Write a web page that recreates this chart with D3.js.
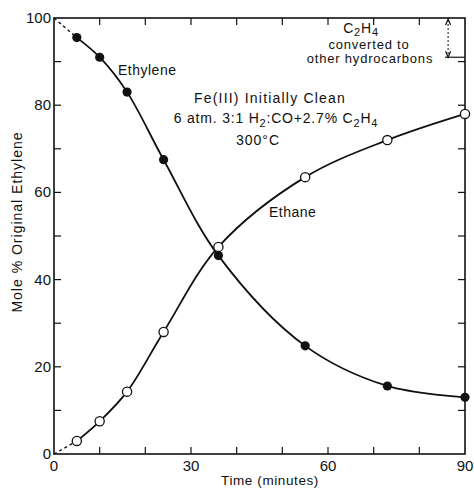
<!DOCTYPE html>
<html>
<head>
<meta charset="utf-8">
<script src="https://cdn.jsdelivr.net/npm/d3@7"></script>
<style>
  body { margin: 0; background: #fff; }
  text { font-family: "Liberation Sans", Arial, sans-serif; fill: #111; }
</style>
</head>
<body>
<div id="chart"></div>
<script>
// data
const times = [5, 10, 16, 24, 36, 55, 73, 90];
const ethylene = [95.5, 91, 83, 67.5, 45.5, 24.8, 15.6, 13];
const ethane = [3, 7.5, 14.3, 28, 47.5, 63.5, 72, 78];
const ethyleneStart = [0, 100];
const ethaneStart = [0, 0];
const xTickLabels = [0, 30, 60, 90];
const yTickLabels = [0, 20, 40, 60, 80, 100];
const minorTicks = [10, 20, 30, 40, 50, 60, 70, 80, 90];

const width = 474, height = 490;
const margin = {top: 18, right: 9, bottom: 36, left: 54};

const svg = d3.select("#chart").append("svg")
    .attr("width", width)
    .attr("height", height);

const x = d3.scaleLinear().domain([0, 90]).range([margin.left, width - margin.right]);
const y = d3.scaleLinear().domain([0, 100]).range([height - margin.bottom, margin.top]);

const ink = "#111";

// frame
svg.append("rect")
    .attr("x", x(0)).attr("y", y(100))
    .attr("width", x(90) - x(0)).attr("height", y(0) - y(100))
    .attr("fill", "none").attr("stroke", ink).attr("stroke-width", 1.6);

// inward ticks on all four sides
const tl = 7;
minorTicks.forEach(v => {
    if (v < 90) {
        svg.append("line").attr("x1", x(v)).attr("x2", x(v)).attr("y1", y(0)).attr("y2", y(0) - tl)
            .attr("stroke", ink).attr("stroke-width", 1.2);
        svg.append("line").attr("x1", x(v)).attr("x2", x(v)).attr("y1", y(100)).attr("y2", y(100) + tl)
            .attr("stroke", ink).attr("stroke-width", 1.2);
    }
    svg.append("line").attr("x1", x(0)).attr("x2", x(0) + tl).attr("y1", y(v)).attr("y2", y(v))
        .attr("stroke", ink).attr("stroke-width", 1.2);
    svg.append("line").attr("x1", x(90)).attr("x2", x(90) - tl).attr("y1", y(v)).attr("y2", y(v))
        .attr("stroke", ink).attr("stroke-width", 1.2);
});

// tick labels
svg.selectAll(".xlab").data(xTickLabels).enter().append("text")
    .attr("x", d => x(d)).attr("y", y(0) + 17)
    .attr("text-anchor", "middle").attr("font-size", 15)
    .text(d => d);

svg.selectAll(".ylab").data(yTickLabels).enter().append("text")
    .attr("x", x(0) - 3).attr("y", d => y(d) + 5)
    .attr("text-anchor", "end").attr("font-size", 15)
    .text(d => d);

// axis titles
svg.append("text")
    .attr("x", 270).attr("y", height - 5)
    .attr("text-anchor", "middle").attr("font-size", 13.5)
    .attr("letter-spacing", 0.6)
    .text("Time (minutes)");

svg.append("text")
    .attr("transform", "rotate(-90)")
    .attr("x", -222).attr("y", 22)
    .attr("text-anchor", "middle").attr("font-size", 14)
    .attr("letter-spacing", 1)
    .text("Mole % Original Ethylene");

// curves
const line = d3.line()
    .x(d => x(d[0])).y(d => y(d[1]))
    .curve(d3.curveCatmullRom.alpha(0.5));

const ethyleneData = times.map((t, i) => [t, ethylene[i]]);
const ethaneData = times.map((t, i) => [t, ethane[i]]);

[[ethyleneStart, ethyleneData], [ethaneStart, ethaneData]].forEach(([start, pts]) => {
    svg.append("path")
        .attr("d", d3.line().x(d => x(d[0])).y(d => y(d[1]))([start, pts[0]]))
        .attr("fill", "none").attr("stroke", ink).attr("stroke-width", 1.4)
        .attr("stroke-dasharray", "3,3");
    svg.append("path")
        .attr("d", line(pts))
        .attr("fill", "none").attr("stroke", ink).attr("stroke-width", 1.8);
});

svg.selectAll(".eth").data(ethyleneData).enter().append("circle")
    .attr("cx", d => x(d[0])).attr("cy", d => y(d[1]))
    .attr("r", 4.6).attr("fill", ink);

svg.selectAll(".ethane").data(ethaneData).enter().append("circle")
    .attr("cx", d => x(d[0])).attr("cy", d => y(d[1]))
    .attr("r", 4.6).attr("fill", "#fff").attr("stroke", ink).attr("stroke-width", 1.3);

// labels
svg.append("text").attr("x", 118).attr("y", 75).attr("font-size", 14)
    .attr("letter-spacing", 0.5).text("Ethylene");
svg.append("text").attr("x", 269).attr("y", 217).attr("font-size", 14)
    .attr("letter-spacing", 0.5).text("Ethane");

svg.append("text").attr("x", 270).attr("y", 103).attr("text-anchor", "middle")
    .attr("font-size", 14).attr("letter-spacing", 1.2).text("Fe(III) Initially Clean");

const cond = svg.append("text").attr("x", 276).attr("y", 123).attr("text-anchor", "middle")
    .attr("font-size", 14).attr("letter-spacing", 0.8);
cond.append("tspan").text("6 atm. 3:1  H");
cond.append("tspan").attr("dy", 4).attr("font-size", 11).text("2");
cond.append("tspan").attr("dy", -4).text(":CO+2.7% C");
cond.append("tspan").attr("dy", 4).attr("font-size", 11).text("2");
cond.append("tspan").attr("dy", -4).text("H");
cond.append("tspan").attr("dy", 4).attr("font-size", 11).text("4");

svg.append("text").attr("x", 258).attr("y", 145).attr("text-anchor", "middle")
    .attr("font-size", 14).attr("letter-spacing", 1).text("300°C");

// annotation: C2H4 converted to other hydrocarbons
const gap = 100 - ethylene[ethylene.length - 1] - ethane[ethane.length - 1];
const ax = x(86.3);
const c2 = svg.append("text").attr("x", 361).attr("y", 33).attr("text-anchor", "middle")
    .attr("font-size", 14).attr("letter-spacing", 0.8);
c2.append("tspan").text("C");
c2.append("tspan").attr("dy", 3).attr("font-size", 11).text("2");
c2.append("tspan").attr("dy", -3).text("H");
c2.append("tspan").attr("dy", 3).attr("font-size", 11).text("4");
svg.append("text").attr("x", 369).attr("y", 49).attr("text-anchor", "middle")
    .attr("font-size", 13).attr("letter-spacing", 0.8).text("converted to");
svg.append("text").attr("x", 370).attr("y", 63).attr("text-anchor", "middle")
    .attr("font-size", 13).attr("letter-spacing", 0.8).text("other hydrocarbons");

svg.append("line")
    .attr("x1", ax).attr("x2", ax).attr("y1", y(100) + 2).attr("y2", y(100 - gap))
    .attr("stroke", ink).attr("stroke-width", 1).attr("stroke-dasharray", "2,2");
svg.append("path")
    .attr("d", `M${ax - 2.5},${y(100) + 7}L${ax},${y(100) + 1}L${ax + 2.5},${y(100) + 7}`)
    .attr("fill", "none").attr("stroke", ink).attr("stroke-width", 1.2);
svg.append("path")
    .attr("d", `M${ax - 2.5},${y(100 - gap) - 6}L${ax},${y(100 - gap)}L${ax + 2.5},${y(100 - gap) - 6}`)
    .attr("fill", "none").attr("stroke", ink).attr("stroke-width", 1.2);
svg.append("line")
    .attr("x1", ax - 3).attr("x2", x(90)).attr("y1", y(100 - gap)).attr("y2", y(100 - gap))
    .attr("stroke", ink).attr("stroke-width", 1.2);
</script>
</body>
</html>
